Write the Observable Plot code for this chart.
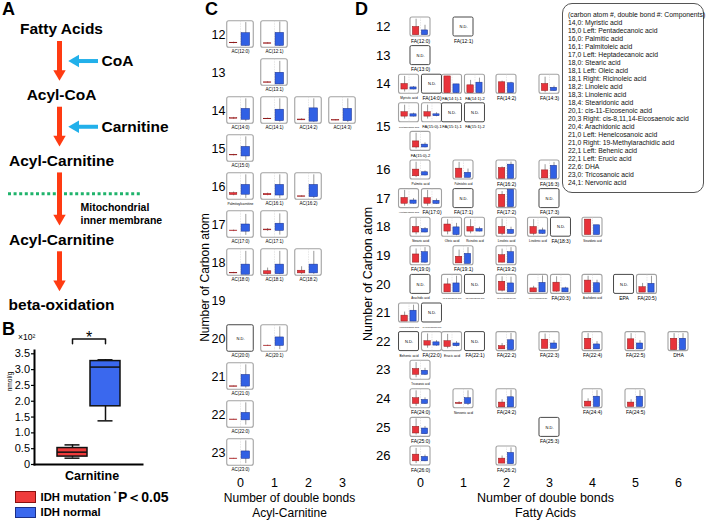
<!DOCTYPE html>
<html><head><meta charset="utf-8">
<script src="https://cdn.jsdelivr.net/npm/d3@7"></script>
<script src="https://cdn.jsdelivr.net/npm/@observablehq/plot@0.6"></script>
<style>
body{margin:0;background:#fff;}
#fig{position:relative;width:706px;height:520px;overflow:hidden;font-family:"Liberation Sans",Arial,Helvetica,sans-serif;color:#000;}
#fig > *{position:absolute;}
.pl{font-weight:bold;font-size:18px;line-height:18px;}
</style></head><body><div id="fig"></div>
<script>
// ---------- Panel A: pathway ----------
const pathwaySteps = ["Fatty Acids", "Acyl-CoA", "Acyl-Carnitine", "Acyl-Carnitine", "beta-oxidation"];
const cofactors = ["CoA", "Carnitine"];
const membraneAfterStep = 2;
const membraneLabel = "Mitochondrial\ninner membrane";

// ---------- Panel B: carnitine (x10^2 nmol/g) ----------
const bGroups = ["IDH mutation", "IDH normal"];
const carnitineMin = [0.20, 1.38];
const carnitineQ1 = [0.25, 1.84];
const carnitineMedian = [0.39, 3.08];
const carnitineQ3 = [0.52, 3.27];
const carnitineMax = [0.62, 3.31];
const bTicks = [0, 0.5, 1, 1.5, 2, 2.5, 3, 3.5];
const pNote = "P\uFF1C0.05";

// ---------- Panel C: acyl-carnitines (values relative to each mini plot: [min, q1, q3, max]) ----------
const acLabels = ["AC(12:0)","AC(12:1)","AC(13:1)","AC(14:0)","AC(14:1)","AC(14:2)","AC(14:3)","AC(15:0)",
  "Palmitoylcarnitine","AC(16:1)","AC(16:2)","AC(17:0)","AC(17:1)","AC(18:0)","AC(18:1)","AC(18:2)",
  "AC(20:0)","AC(20:1)","AC(21:0)","AC(22:0)","AC(23:0)"];
const acCarbon = [12,12,13,14,14,14,14,15,16,16,16,17,17,18,18,18,20,20,21,22,23];
const acBonds  = [0,1,1,0,1,2,3,0,0,1,2,0,1,0,1,2,0,1,0,0,0];
const acMutation = [
  [0.15,0.17,0.19,0.21],[0.14,0.15,0.17,0.19],[0.10,0.11,0.13,0.15],
  [0.17,0.19,0.21,0.24],[0.16,0.17,0.19,0.21],[0.12,0.13,0.16,0.19],[0.11,0.12,0.14,0.16],
  [0.22,0.24,0.26,0.28],
  [0.15,0.18,0.25,0.29],[0.15,0.17,0.22,0.25],[0.10,0.11,0.13,0.15],
  [0.23,0.25,0.27,0.29],[0.24,0.28,0.31,0.35],
  [0.08,0.09,0.11,0.13],[0.03,0.06,0.17,0.29],[0.05,0.09,0.19,0.34],
  null,[0.20,0.21,0.23,0.25],
  [0.11,0.11,0.13,0.14],[0.29,0.29,0.31,0.32],[0.25,0.25,0.27,0.28]];
const acNormal = [
  [0.05,0.07,0.55,0.95],[0.05,0.07,0.56,0.97],[0.04,0.05,0.49,0.92],
  [0.08,0.15,0.56,0.94],[0.06,0.10,0.53,0.94],[0.05,0.08,0.58,0.94],[0.05,0.10,0.56,0.94],
  [0.05,0.20,0.56,0.94],
  [0.05,0.19,0.56,0.94],[0.05,0.16,0.56,0.94],[0.05,0.10,0.56,0.94],
  [0.09,0.23,0.50,0.88],[0.10,0.26,0.53,0.90],
  [0.03,0.04,0.42,0.92],[0.04,0.06,0.42,0.92],[0.05,0.09,0.42,0.92],
  null,[0.08,0.22,0.54,0.94],
  [0.06,0.12,0.56,0.94],[0.10,0.28,0.56,0.94],[0.08,0.26,0.54,0.94]];
const acBondAxis = [0,1,2,3];
const acCarbonAxis = [12,13,14,15,16,17,18,19,20,21,22,23];

// ---------- Panel D: fatty acids ----------
const faLabels = [
  "FA(12:0)","FA(12:1)",
  "FA(13:0)",
  "Myristic acid","FA(14:0)","FA(14:1)-1","FA(14:1)-2","FA(14:2)","FA(14:3)",
  "Pentadecanoic acid","FA(15:0)-1","FA(15:1)-1","FA(15:1)-2","FA(15:0)-2",
  "Palmitic acid","Palmitoleic acid","FA(16:2)","FA(16:3)",
  "Heptadecanoic acid","FA(17:0)","FA(17:1)","FA(17:2)","FA(17:3)",
  "Stearic acid","Oleic acid","Ricinoleic acid","Linoleic acid","Linolenic acid","FA(18:3)","Stearidonic acid",
  "FA(19:0)","FA(19:1)","FA(19:2)",
  "Arachidic acid","cis-11-Eicosenoic acid","cis-13-Eicosenoic acid","cis-11,14-Eicosadienoic acid","cis-11,14,17-Eicosatrienoic acid","FA(20:3)","Arachidonic acid","EPA","FA(20:5)",
  "Heneicosanoic acid","19-Methylarachidic acid",
  "Behenic acid","FA(22:0)","Erucic acid","FA(22:1)","FA(22:2)","FA(22:3)","FA(22:4)","FA(22:5)","DHA",
  "Tricosanoic acid",
  "FA(24:0)","Nervonic acid","FA(24:2)","FA(24:4)","FA(24:5)",
  "FA(25:0)","FA(25:3)",
  "FA(26:0)","FA(26:2)"];
const faCarbon = [
  12,12, 13, 14,14,14,14,14,14, 15,15,15,15,15, 16,16,16,16, 17,17,17,17,17,
  18,18,18,18,18,18,18, 19,19,19, 20,20,20,20,20,20,20,20,20, 21,21,
  22,22,22,22,22,22,22,22,22, 23, 24,24,24,24,24, 25,25, 26,26];
const faBonds = [
  0,1, 0, 0,0,1,1,2,3, 0,0,1,1,0, 0,1,2,3, 0,0,1,2,3,
  0,1,1,2,3,3,4, 0,1,2, 0,1,1,2,3,3,4,5,5, 0,0,
  0,0,1,1,2,3,4,5,6, 0, 0,1,2,4,5, 0,3, 0,2];
const faSide = [
  "","", "", "L","R","L","R","","", "L","R","L","R","", "","","","", "L","R","","","",
  "","L","R","","L","R","", "","","", "","L","R","","L","R","","L","R", "L","R",
  "L","R","L","R","","","","","", "", "","","","","", "","", "",""];
const faSecondLine = ["FA(15:0)-2"];
const faMutation = [
  [0.07,0.07,0.50,0.91], null,
  null,
  [0.09,0.22,0.51,0.91], null, [0.03,0.03,0.91,0.91], [0.03,0.03,0.44,0.70], [0.03,0.03,0.60,0.66], [0.05,0.14,0.51,0.87],
  [0.17,0.30,0.53,0.90], [0.17,0.30,0.53,0.90], null, null, [0.10,0.18,0.50,0.93],
  [0.10,0.17,0.52,0.91], [0.09,0.09,0.57,0.90], [0.04,0.04,0.60,0.66], [0.06,0.06,0.48,0.78],
  [0.10,0.23,0.53,0.93], [0.10,0.23,0.52,0.93], null, [0.05,0.05,0.70,0.87], null,
  [0.10,0.22,0.51,0.96], [0.10,0.27,0.64,0.90], [0.15,0.27,0.51,0.90], [0.05,0.15,0.51,0.92], [0.05,0.15,0.51,0.90], null, [0.09,0.09,0.90,0.90],
  [0.14,0.14,0.57,0.86], [0.10,0.10,0.45,0.80], [0.12,0.14,0.53,0.85],
  null, [0.08,0.08,0.50,0.80], null, [0.10,0.17,0.64,0.90], [0.08,0.08,0.29,0.40], [0.08,0.12,0.59,0.90], [0.07,0.07,0.70,0.93], null, [0.07,0.07,0.35,0.55],
  [0.05,0.05,0.36,0.55], null,
  null, [0.15,0.29,0.52,0.90], [0.12,0.22,0.52,0.88], null, [0.09,0.09,0.26,0.40], [0.12,0.12,0.60,0.90], [0.09,0.09,0.65,0.92], [0.09,0.09,0.62,0.92], [0.05,0.05,0.65,0.92],
  [0.10,0.26,0.56,0.90],
  [0.10,0.23,0.53,0.92], [0.20,0.23,0.28,0.35], [0.05,0.05,0.30,0.45], [0.09,0.09,0.35,0.50], [0.07,0.07,0.30,0.45],
  [0.10,0.18,0.53,0.95], null,
  [0.10,0.22,0.57,0.90], [0.10,0.10,0.36,0.50]];
const faNormal = [
  [0.07,0.07,0.32,0.59], null,
  null,
  [0.20,0.22,0.33,0.38], null, [0.03,0.03,0.49,0.49], [0.03,0.03,0.58,0.82], [0.03,0.03,0.55,0.60], [0.12,0.14,0.31,0.40],
  [0.28,0.30,0.42,0.48], [0.29,0.32,0.42,0.50], null, null, [0.16,0.18,0.33,0.42],
  [0.19,0.21,0.38,0.45], [0.09,0.09,0.35,0.55], [0.04,0.04,0.78,0.92], [0.04,0.04,0.72,0.90],
  [0.20,0.23,0.40,0.50], [0.20,0.22,0.38,0.48], null, [0.05,0.05,0.96,0.96], null,
  [0.20,0.22,0.40,0.48], [0.05,0.09,0.49,0.70], [0.25,0.27,0.40,0.50], [0.12,0.15,0.36,0.50], [0.12,0.15,0.33,0.45], null, [0.09,0.09,0.60,0.60],
  [0.10,0.14,0.69,0.93], [0.07,0.07,0.60,0.93], [0.10,0.10,0.69,0.93],
  null, [0.08,0.08,0.55,0.93], null, [0.08,0.08,0.55,0.88], [0.08,0.08,0.58,0.95], [0.08,0.08,0.29,0.35], [0.07,0.07,0.56,0.72], null, [0.07,0.07,0.53,0.93],
  [0.05,0.05,0.62,0.91], null,
  null, [0.25,0.29,0.46,0.55], [0.22,0.26,0.40,0.50], null, [0.05,0.05,0.57,0.93], [0.10,0.12,0.40,0.55], [0.09,0.09,0.35,0.50], [0.09,0.09,0.40,0.55], [0.05,0.05,0.65,0.92],
  [0.22,0.26,0.47,0.60],
  [0.20,0.23,0.44,0.55], [0.15,0.23,0.53,0.92], [0.05,0.05,0.58,0.95], [0.07,0.07,0.61,0.93], [0.07,0.07,0.61,0.93],
  [0.12,0.14,0.44,0.55], null,
  [0.20,0.22,0.45,0.55], [0.07,0.07,0.66,0.93]];
const faBondAxis = [0,1,2,3,4,5,6];
const faCarbonAxis = [12,13,14,15,16,17,18,19,20,21,22,23,24,25,26];
const componentLegend = [
  "(carbon atom #, double bond #: Components)",
  "14,0: Myristic acid",
  "15,0 Left: Pentadecanoic acid",
  "16,0: Palmitic acid",
  "16,1: Palmitoleic acid",
  "17,0 Left: Heptadecanoic acid",
  "18,0: Stearic acid",
  "18,1 Left: Oleic acid",
  "18,1 Right: Ricinoleic acid",
  "18,2: Linoleic acid",
  "18,3: Linolenic acid",
  "18,4: Stearidonic acid",
  "20,1: cis-11-Eicosenoic acid",
  "20,3 Right: cis-8,11,14-Eicosaenoic acid",
  "20,4: Arachidonic acid",
  "21,0 Left: Henelcosanoic acid",
  "21,0 Right: 19-Methylarachidic acid",
  "22,1 Left: Behenic acid",
  "22,1 Left: Erucic acid",
  "22,6: DHA",
  "23,0: Tricosanoic acid",
  "24,1: Nervonic acid"];

// ---------- styles ----------
const FONT = "'Liberation Sans', Arial, Helvetica, sans-serif";
const RED_A = "#ff3b12", CYAN = "#22b0ea", GREEN = "#1fb36b";
const MUT = "#e8333b", MUT_S = "#8e1a1a", NORM = "#3160e4", NORM_S = "#1b2f88";
const MUT_B = "#ef3b3b", NORM_B = "#3a68ee";
const baseStyle = {background: "none", overflow: "visible", fontFamily: FONT, fontSize: "12px", color: "#000"};

const fig = document.getElementById("fig");
function place(el, left, top) { el.style.position = "absolute"; el.style.left = left + "px"; el.style.top = top + "px"; fig.appendChild(el); return el; }
function html(tag, text, css, left, top) { const e = document.createElement(tag); e.textContent = text; Object.assign(e.style, css || {}); return place(e, left, top); }

// ---------- Panel A ----------
const stepData = pathwaySteps.map((name, i) => ({name, level: i + (i > membraneAfterStep ? 0.2 : 0)}));
const redArrows = d3.pairs(stepData).map(([a, b]) => ({from: a.level, to: b.level}));
const cofData = cofactors.map((name, i) => ({name, level: stepData[i].level + 0.48}));
const membraneLevel = stepData[membraneAfterStep].level + 0.5;

place(Plot.plot({
  width: 200, height: 320, marginLeft: 8, marginRight: 58, marginTop: 0, marginBottom: 0,
  x: {domain: [0, 1], range: [59, 101], axis: null},
  y: {domain: [0, 4.2], range: [29, 305], axis: null},
  style: baseStyle,
  marks: [
    Plot.ruleY([membraneLevel], {stroke: GREEN, strokeWidth: 3, strokeDasharray: "3,2.6"}),
    Plot.ruleX(redArrows, {x: () => 0, y1: "from", y2: "to", insetTop: 12, insetBottom: 23, stroke: RED_A, strokeWidth: 5}),
    Plot.dot(redArrows, {x: () => 0, y: "to", dy: -21.5, symbol: "triangle", rotate: 180, r: 4.6, fill: RED_A, stroke: "none"}),
    Plot.ruleY(cofData, {y: "level", x1: () => 0, x2: () => 1, insetLeft: 17, insetRight: 3, stroke: CYAN, strokeWidth: 4}),
    Plot.dot(cofData, {x: () => 0, y: "level", dx: 15.9, symbol: "triangle", rotate: -90, r: 4.6, fill: CYAN, stroke: "none"}),
    Plot.text(stepData, {x: () => 0, y: "level", text: "name", dx: 2, fontSize: 15.5, fontWeight: "bold"}),
    Plot.text(cofData, {x: () => 1, y: "level", text: "name", textAnchor: "start", fontSize: 15.5, fontWeight: "bold"}),
    Plot.text([membraneLabel], {x: () => 0, y: () => membraneLevel, dx: 21, dy: 19.3, textAnchor: "start", lineAnchor: "middle", fontSize: 10.5, fontWeight: "bold", lineHeight: 1.24})
  ]
}), 0, 0);

// ---------- Panel B ----------
const bIdx = bGroups.map((g, i) => i);
const bTop = d3.max(carnitineMax);
const bracketTop = bTop + 0.66, bracketEnd = bTop + 0.51;
const bracket = [[0, bracketEnd], [0, bracketTop], [1, bracketTop], [1, bracketEnd]].map(([g, v]) => ({g: bGroups[g], v}));
place(Plot.plot({
  width: 200, height: 200, marginLeft: 34, marginRight: 58, marginTop: 50, marginBottom: 36,
  x: {type: "band", domain: bGroups, range: [55.5, 121.5], paddingInner: 0.1, paddingOuter: 0.05, axis: null},
  y: {domain: [0, 3.5], range: [164, 53.3], axis: null},
  style: baseStyle,
  marks: [
    Plot.axisY({ticks: bTicks, tickFormat: d => d === 0 ? "0" : d.toFixed(1), tickSize: 3, tickPadding: 1.5, fontSize: 11, label: null, strokeWidth: 1.2}),
    Plot.ruleX(bIdx, {x: i => bGroups[i], y1: i => carnitineMin[i], y2: i => carnitineMax[i], stroke: "#111", strokeWidth: 1.5}),
    Plot.tickY(bIdx, {x: i => bGroups[i], y: i => carnitineMin[i], insetLeft: 7.5, insetRight: 7.5, stroke: "#111", strokeWidth: 1.5}),
    Plot.tickY(bIdx, {x: i => bGroups[i], y: i => carnitineMax[i], insetLeft: 7.5, insetRight: 7.5, stroke: "#111", strokeWidth: 1.5}),
    Plot.barY(bIdx, {x: i => bGroups[i], y1: i => carnitineQ1[i], y2: i => carnitineQ3[i], fill: i => [MUT_B, NORM_B][i], stroke: "#111", strokeWidth: 1.5}),
    Plot.tickY(bIdx, {x: i => bGroups[i], y: i => carnitineMedian[i], stroke: "#111", strokeWidth: 1.5}),
    Plot.frame({anchor: "left", stroke: "#000", strokeWidth: 2}),
    Plot.frame({anchor: "bottom", stroke: "#000", strokeWidth: 2}),
    Plot.line(bracket, {x: "g", y: "v", stroke: "#111", strokeWidth: 1.5}),
    Plot.text(["*"], {x: () => bGroups[0], y: () => bracketTop, dx: 16.5, dy: -1, fontSize: 16}),
    Plot.text(["Carnitine"], {frameAnchor: "bottom", lineAnchor: "middle", dx: 3.5, dy: 11, fontWeight: "bold", fontSize: 12.5}),
    Plot.text(["\u00D710\u00B2"], {frameAnchor: "top-left", lineAnchor: "middle", textAnchor: "start", dx: -16.5, dy: -13.3, fontSize: 8.5}),
    Plot.text(["nmol/g"], {frameAnchor: "left", textAnchor: "middle", lineAnchor: "middle", rotate: -90, dx: -25, dy: -26, fontSize: 6.5})
  ]
}), 0, 300);

// B legend
[[MUT_B, "#8a1010", 491], [NORM_B, "#1b2f88", 506.7]].forEach(([bg, bd, top], i) => {
  html("div", "", {width: "21px", height: "11.5px", background: bg, border: "1px solid " + bd, boxSizing: "border-box"}, 15, top);
  html("div", bGroups[i], {fontWeight: "bold", fontSize: "11.3px", lineHeight: "12px"}, 40.5, top - 0.3);
});
html("div", "*", {fontSize: "8px", lineHeight: "8px"}, 113.5, 490);
html("div", pNote, {fontWeight: "bold", fontSize: "14px", lineHeight: "15px"}, 118, 489.5);

// ---------- mini boxplots ----------
function miniMarks(charts, o) {
  const frames = charts.map(d => ({...d, x1: d.x - o.hw, x2: d.x + o.hw, y1: d.y - o.hh, y2: d.y + o.hh,
    big: /^(FA|AC)\(/.test(d.label) || d.label.length <= 4}));
  const shown = frames.filter(d => d.mut), nd = frames.filter(d => !d.mut);
  const parts = shown.flatMap(d => [[d.mut, o.mutSpan, MUT, MUT_S], [d.norm, o.normSpan, NORM, NORM_S]].map(([s, span, fill, stroke]) => {
    const x1 = d.x + o.hw * (2 * span[0] - 1), x2 = d.x + o.hw * (2 * span[1] - 1);
    const vy = v => d.y + o.hh * (1 - 2 * v);
    return {x1, x2, xc: (x1 + x2) / 2, lo: vy(s[0]), q1: vy(s[1]), q3: vy(s[2]), hi: vy(s[3]), fill, stroke};
  }));
  const fit = (d, base) => Math.min(base, o.labelRoom / (d.label.length * 0.52));
  return [
    Plot.rect(shown, {x1: "x1", x2: "x2", y1: "y1", y2: "y2", fill: "white", stroke: "#a2a2a2", strokeWidth: 1.1, rx: 2}),
    Plot.rect(nd, {x1: "x1", x2: "x2", y1: "y1", y2: "y2", fill: "white", stroke: "#333", strokeWidth: 0.9, rx: 1.5}),
    Plot.ruleX(shown, {x: "x", y1: "y1", y2: "y2", stroke: "#cfcfcf", strokeWidth: 0.5, strokeDasharray: "1.5,1"}),
    Plot.ruleX(parts, {x: "xc", y1: "lo", y2: "hi", stroke: "#555", strokeWidth: 0.6}),
    Plot.rect(parts, {x1: "x1", x2: "x2", y1: "q1", y2: "q3", fill: "fill", stroke: "stroke", strokeWidth: 0.5}),
    Plot.text(nd, {x: "x", y: "y", text: () => "N.D.", fontSize: 4}),
    Plot.text(frames.filter(d => d.big), {x: "x", y: "y2", text: "label", dy: o.labelDy, fontSize: d => fit(d, o.bigFont)}),
    Plot.text(frames.filter(d => !d.big), {x: "x", y: "y2", text: "label", dy: o.labelDy, fontSize: d => fit(d, 3.3)})
  ];
}

// ---------- Panel C ----------
const acCharts = acLabels.map((label, i) => ({label, x: acBonds[i], y: acCarbon[i], mut: acMutation[i], norm: acNormal[i]}));
place(Plot.plot({
  width: 170, height: 520, marginLeft: 32, marginRight: 0, marginTop: 0, marginBottom: 46,
  x: {domain: [0, 3], range: [45, 147], label: null},
  y: {domain: [12, 23], range: [34, 452], label: null},
  style: baseStyle,
  marks: [
    Plot.axisX({ticks: acBondAxis, tickFormat: d => String(d), tickSize: 0, tickPadding: 4, fontSize: 12.5, label: null}),
    Plot.axisY({ticks: acCarbonAxis, tickFormat: d => String(d), tickSize: 0, tickPadding: 2, fontSize: 12.5, label: null}),
    ...miniMarks(acCharts, {hw: 0.39, hh: 0.349, mutSpan: [0.1, 0.38], normSpan: [0.54, 0.86], labelDy: 3.8, bigFont: 4.5, labelRoom: 31}),
    Plot.text(["Number of double bonds\nAcyl-Carnitine"], {x: () => 1.5, frameAnchor: "bottom", lineAnchor: "middle", dx: -2, dy: 30, fontSize: 12, lineHeight: 1.25}),
    Plot.text(["Number of Carbon atom"], {frameAnchor: "left", textAnchor: "middle", lineAnchor: "middle", rotate: -90, dx: -22, dy: 40, fontSize: 12})
  ]
}), 195, 0);

// ---------- Panel D ----------
const PAIR = 0.267;
const rowOf = (c, tier) => c < 15 ? c - 12 : c === 15 ? 3 + tier : c - 11;
const rowTick = c => c === 15 ? 3.5 : rowOf(c, 0);
const faTickRows = faCarbonAxis.map(rowTick);
const faCharts = faLabels.map((label, i) => ({
  label,
  x: faBonds[i] + (faSide[i] === "L" ? -PAIR : faSide[i] === "R" ? PAIR : 0),
  y: rowOf(faCarbon[i], faSecondLine.includes(label) ? 1 : 0),
  mut: faMutation[i], norm: faNormal[i]
}));
place(Plot.plot({
  width: 366, height: 520, marginLeft: 52, marginRight: 0, marginTop: 0, marginBottom: 45,
  x: {domain: [0, 6], range: [80, 338], label: null},
  y: {domain: [0, 15], range: [26.5, 455.5], label: null},
  style: baseStyle,
  marks: [
    Plot.axisX({ticks: faBondAxis, tickFormat: d => String(d), tickSize: 0, tickPadding: 3, fontSize: 12.5, label: null}),
    Plot.axisY({ticks: faTickRows, tickFormat: v => String(faCarbonAxis[faTickRows.indexOf(v)]), tickSize: 0, tickPadding: 2, fontSize: 13, label: null}),
    ...miniMarks(faCharts, {hw: 0.2326, hh: 0.332, mutSpan: [0.12, 0.44], normSpan: [0.57, 0.88], labelDy: 4.5, bigFont: 5, labelRoom: 21.5}),
    Plot.text(["Number of double bonds\nFatty Acids"], {x: () => 3, frameAnchor: "bottom", lineAnchor: "middle", dx: -4, dy: 29.5, fontSize: 12.5, lineHeight: 1.2}),
    Plot.text(["Number of Carbon atom"], {frameAnchor: "left", textAnchor: "middle", lineAnchor: "middle", rotate: -90, dx: -24.5, dy: 36, fontSize: 12.5})
  ]
}), 340, 0);

// component legend
const legBox = document.createElement("div");
Object.assign(legBox.style, {width: "142px", height: "190px", border: "1.2px solid #555", borderRadius: "10px", boxSizing: "border-box",
  fontSize: "6.8px", lineHeight: "8px", padding: "6.8px 0 0 5px", whiteSpace: "nowrap", color: "#111", background: "#fff"});
componentLegend.forEach(t => { const d = document.createElement("div"); d.textContent = t; d.style.height = "8px"; legBox.appendChild(d); });
place(legBox, 562, 3);

// panel letters
html("div", "A", {}, 2, 0).className = "pl";
html("div", "B", {}, 2, 320).className = "pl";
html("div", "C", {}, 205, 0).className = "pl";
html("div", "D", {}, 355, 0).className = "pl";
</script></body></html>
